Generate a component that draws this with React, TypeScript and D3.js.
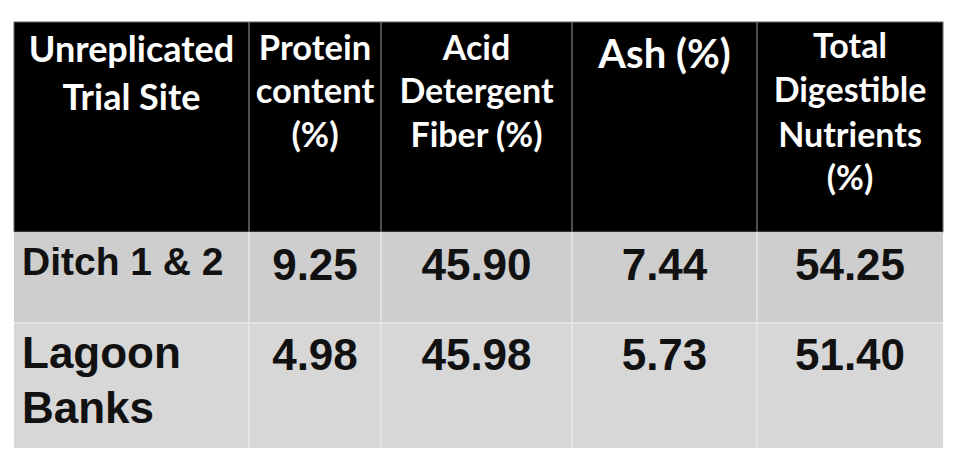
import { useEffect, useRef } from "react";
import * as d3 from "d3";

// header text, one entry per column, split into its lines
const headers: string[][] = [
  ["Unreplicated", "Trial Site"],
  ["Protein", "content", "(%)"],
  ["Acid", "Detergent", "Fiber (%)"],
  ["Ash (%)"],
  ["Total", "Digestible", "Nutrients", "(%)"],
];

const sites: string[][] = [["Ditch 1 & 2"], ["Lagoon", "Banks"]];

const protein = [9.25, 4.98];
const adf = [45.9, 45.98];
const ash = [7.44, 5.73];
const tdn = [54.25, 51.4];

// layout
const W = 962;
const H = 468;
const colEdges = [14, 249, 381, 572, 757, 943];
const rowEdges = [22, 232, 323, 448];
const headerBaselines = [
  [62, 110],
  [60, 103, 147],
  [60, 103, 147],
  [68],
  [58, 102, 147, 190],
];
const headerSizes = [36, 34.5, 34, 40, 34];
const siteBaselines = [[275], [368, 423]];
const siteSizes = [39, 44];
const valueBaselines = [280, 370];
const rowFills = ["#cecece", "#d7d7d7"];

const App = () => {
  const svgRef = useRef<SVGSVGElement | null>(null);

  useEffect(() => {
    document.body.style.margin = "0";
    const svg = d3.select(svgRef.current).attr("width", W).attr("height", H);
    svg.selectAll("*").remove();

    const cols = d3.range(headers.length);
    const x0 = (i: number) => colEdges[i];
    const xc = (i: number) => (colEdges[i] + colEdges[i + 1]) / 2;

    // header
    svg
      .append("rect")
      .attr("x", colEdges[0])
      .attr("y", rowEdges[0])
      .attr("width", colEdges[5] - colEdges[0])
      .attr("height", rowEdges[1] - rowEdges[0])
      .attr("fill", "#000")
      .attr("stroke", "#666")
      .attr("stroke-width", 1);

    // body rows
    svg
      .selectAll("rect.row")
      .data(sites)
      .join("rect")
      .attr("class", "row")
      .attr("x", colEdges[0])
      .attr("y", (_, i) => rowEdges[i + 1])
      .attr("width", colEdges[5] - colEdges[0])
      .attr("height", (_, i) => rowEdges[i + 2] - rowEdges[i + 1])
      .attr("fill", (_, i) => rowFills[i]);

    // grid lines
    svg
      .selectAll("line.hdiv")
      .data(cols.slice(1))
      .join("line")
      .attr("x1", x0)
      .attr("x2", x0)
      .attr("y1", rowEdges[0])
      .attr("y2", rowEdges[1])
      .attr("stroke", "#6a6a6a")
      .attr("stroke-width", 1.5);

    svg
      .selectAll("line.bdiv")
      .data(cols.slice(1))
      .join("line")
      .attr("x1", x0)
      .attr("x2", x0)
      .attr("y1", rowEdges[1])
      .attr("y2", rowEdges[3])
      .attr("stroke", "#e8e8e8")
      .attr("stroke-width", 1.5);

    svg
      .append("line")
      .attr("x1", colEdges[0])
      .attr("x2", colEdges[5])
      .attr("y1", rowEdges[2])
      .attr("y2", rowEdges[2])
      .attr("stroke", "#e8e8e8")
      .attr("stroke-width", 1.5);

    // header text
    headers.forEach((lines, c) => {
      svg
        .append("g")
        .selectAll("text")
        .data(lines)
        .join("text")
        .attr("x", xc(c))
        .attr("y", (_, j) => headerBaselines[c][j])
        .attr("text-anchor", "middle")
        .attr("fill", "#fff")
        .attr("font-family", "Lato, sans-serif")
        .attr("font-weight", 700)
        .attr("font-size", headerSizes[c])
        .text((d) => d);
    });

    // site labels
    sites.forEach((lines, r) => {
      svg
        .append("g")
        .selectAll("text")
        .data(lines)
        .join("text")
        .attr("x", 22)
        .attr("y", (_, j) => siteBaselines[r][j])
        .attr("fill", "#111")
        .attr("font-family", "'Liberation Sans', Arial, sans-serif")
        .attr("font-weight", 700)
        .attr("font-size", siteSizes[r])
        .text((d) => d);
    });

    // values
    const fmt = d3.format(".2f");
    [protein, adf, ash, tdn].forEach((vals, k) => {
      svg
        .append("g")
        .selectAll("text")
        .data(vals)
        .join("text")
        .attr("x", xc(k + 1))
        .attr("y", (_, r) => valueBaselines[r])
        .attr("text-anchor", "middle")
        .attr("fill", "#111")
        .attr("font-family", "'Liberation Sans', Arial, sans-serif")
        .attr("font-weight", 700)
        .attr("font-size", 44)
        .text((d) => fmt(d));
    });
  }, []);

  return (
    <svg
      ref={svgRef}
      style={{ display: "block", background: "#fff" }}
    ></svg>
  );
};

export default App;
